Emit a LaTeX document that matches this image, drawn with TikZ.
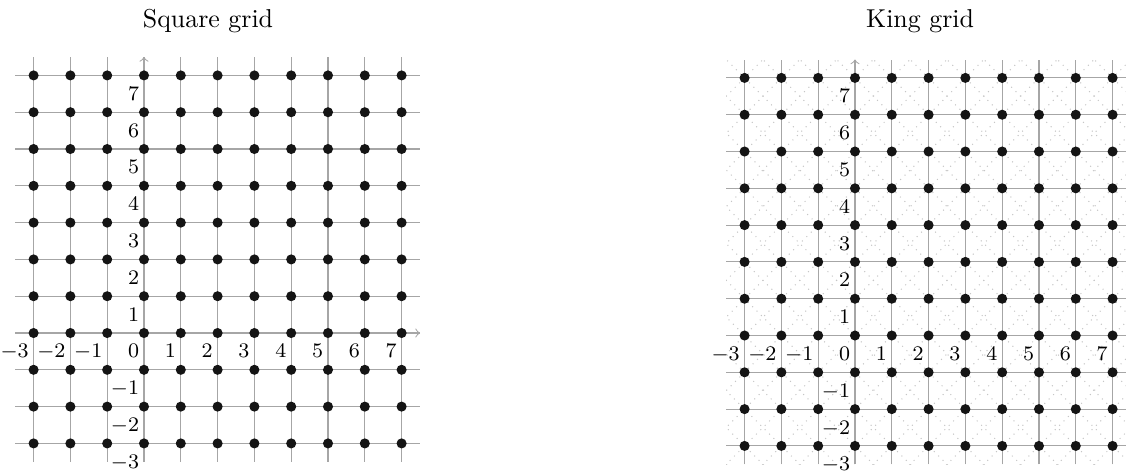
\documentclass[tikz,border=0pt]{standalone}
\begin{document}
\begin{tikzpicture}[x=0.5cm,y=0.5cm,
	gridline/.style={gray!70,line width=0.4pt},
	axisline/.style={gray!70,line width=0.4pt,->},
	diagline/.style={gray!45,dotted,line width=0.4pt},
	vertex/.style={circle,fill=black!92,inner sep=0pt,minimum size=3.9pt},
	ticklabel/.style={anchor=north east,font=\footnotesize,inner xsep=1.7pt,inner ysep=4.3pt}]
		\useasboundingbox (-3.913,-3.777) rectangle (26.685,9.049);
		\node[anchor=base] (sqtitle) at (1.74,8.315) {Square grid};
		\node[anchor=base] (kgtitle) at (21.09,8.315) {King grid};
		% square grid
		\begin{scope}
		\foreach \i in {-3,...,7} {
			\draw[gridline] (\i,-3.5) to (\i,7.5);
			\draw[gridline] (-3.5,\i) to (7.5,\i);
		}
		\draw[axisline] (0,-3.5) to (0,7.5);
		\draw[axisline] (-3.5,0) to (7.5,0);
		\foreach \x in {-3,...,7}
			\foreach \y in {-3,...,7}
				\node[vertex] (sq-\x-\y) at (\x,\y) {};
		\foreach \x in {-3,...,7}
			\node[ticklabel] (sqx-\x) at (\x,0) {$\x$};
		\foreach \y in {-3,-2,-1,1,2,3,4,5,6,7}
			\node[ticklabel] (sqy-\y) at (0,\y) {$\y$};
		\end{scope}
		% king grid
		\begin{scope}[shift={(19.32,-0.068)}]
		\begin{scope}
		\clip (-3.5,-3.5) rectangle (7.5,7.5);
		\foreach \c in {-11,...,11}
			\draw[diagline] (\c-4,-4) to (\c+8,8);
		\foreach \c in {-7,...,15}
			\draw[diagline] (\c+4,-4) to (\c-8,8);
		\end{scope}
		\foreach \i in {-3,...,7} {
			\draw[gridline] (\i,-3.5) to (\i,7.5);
			\draw[gridline] (-3.5,\i) to (7.5,\i);
		}
		\draw[axisline] (0,-3.5) to (0,7.5);
		\draw[axisline] (-3.5,0) to (7.5,0);
		\foreach \x in {-3,...,7}
			\foreach \y in {-3,...,7}
				\node[vertex] (kg-\x-\y) at (\x,\y) {};
		\foreach \x in {-3,...,7}
			\node[ticklabel] (kgx-\x) at (\x,0) {$\x$};
		\foreach \y in {-3,-2,-1,1,2,3,4,5,6,7}
			\node[ticklabel] (kgy-\y) at (0,\y) {$\y$};
		\end{scope}
\end{tikzpicture}
\end{document}
